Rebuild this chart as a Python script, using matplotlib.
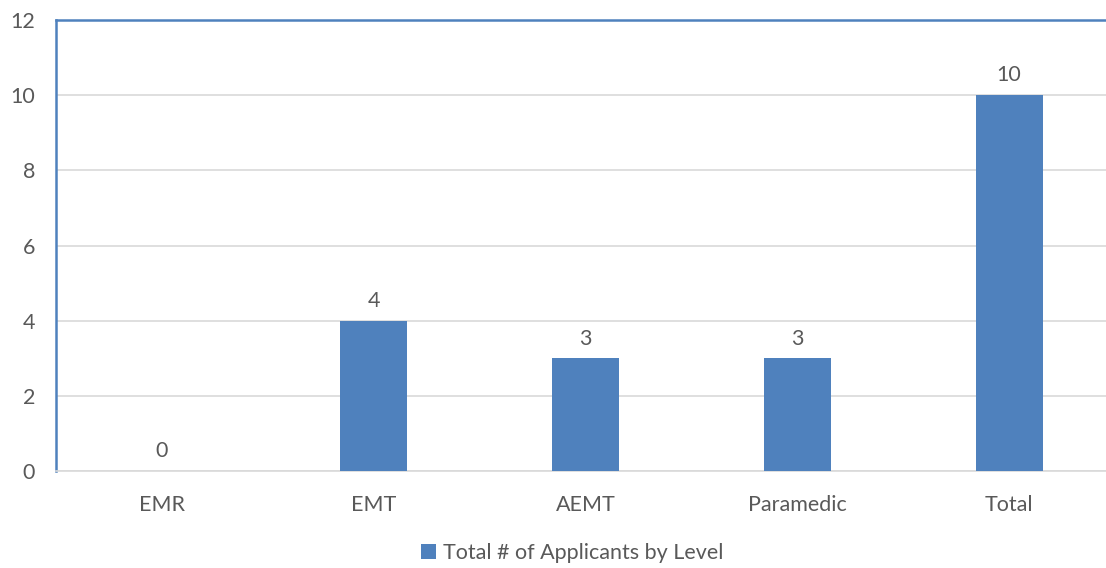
import matplotlib
matplotlib.use('Agg')
import matplotlib.pyplot as plt
from matplotlib.patches import Patch

categories = ['EMR', 'EMT', 'AEMT', 'Paramedic', 'Total']
applicants = [0, 4, 3, 3, 10]
yticks = [0, 2, 4, 6, 8, 10, 12]

BLUE = '#4f81bd'
TEXT = '#595959'
GRID = '#d9d9d9'
FS = 15.5

plt.rcParams['font.family'] = ['Lato', 'DejaVu Sans']

fig = plt.figure(figsize=(11.06, 5.68), dpi=100)
# plot area runs slightly past the right edge, as in the original
ax = fig.add_axes([56 / 1106, 97 / 568, 1059 / 1106, 451 / 568])

x = list(range(len(categories)))
bars = ax.bar(x, applicants, width=0.316, color=BLUE, zorder=3)
for xi, v in zip(x, applicants):
    ax.annotate(str(v), (xi, v), xytext=(0, 7), textcoords='offset points',
                ha='center', va='bottom', fontsize=FS, color=TEXT)

ax.set_xlim(-0.5, len(categories) - 0.5)
ax.set_ylim(0, 12)
ax.set_yticks(yticks)
ax.set_xticks(x)
ax.set_xticklabels(categories)
ax.tick_params(axis='both', length=0, labelsize=FS, labelcolor=TEXT)
ax.tick_params(axis='y', pad=15)
ax.tick_params(axis='x', pad=17)
ax.grid(axis='y', color=GRID, lw=1.2, zorder=0)

ax.spines['left'].set_color(BLUE)
ax.spines['left'].set_linewidth(1.8)
ax.spines['top'].set_color(BLUE)
ax.spines['top'].set_linewidth(1.8)
ax.spines['bottom'].set_color(GRID)
ax.spines['bottom'].set_linewidth(1.2)
ax.spines['right'].set_visible(False)

handle = Patch(facecolor=BLUE, edgecolor='none', label='Total # of Applicants by Level')
fig.legend(handles=[handle], loc='center', bbox_to_anchor=(572 / 1106, 1 - 553 / 568),
           frameon=False, fontsize=FS, labelcolor=TEXT, handlelength=0.7,
           handleheight=0.7, handletextpad=0.3)

fig.savefig('out.png', dpi=100)
